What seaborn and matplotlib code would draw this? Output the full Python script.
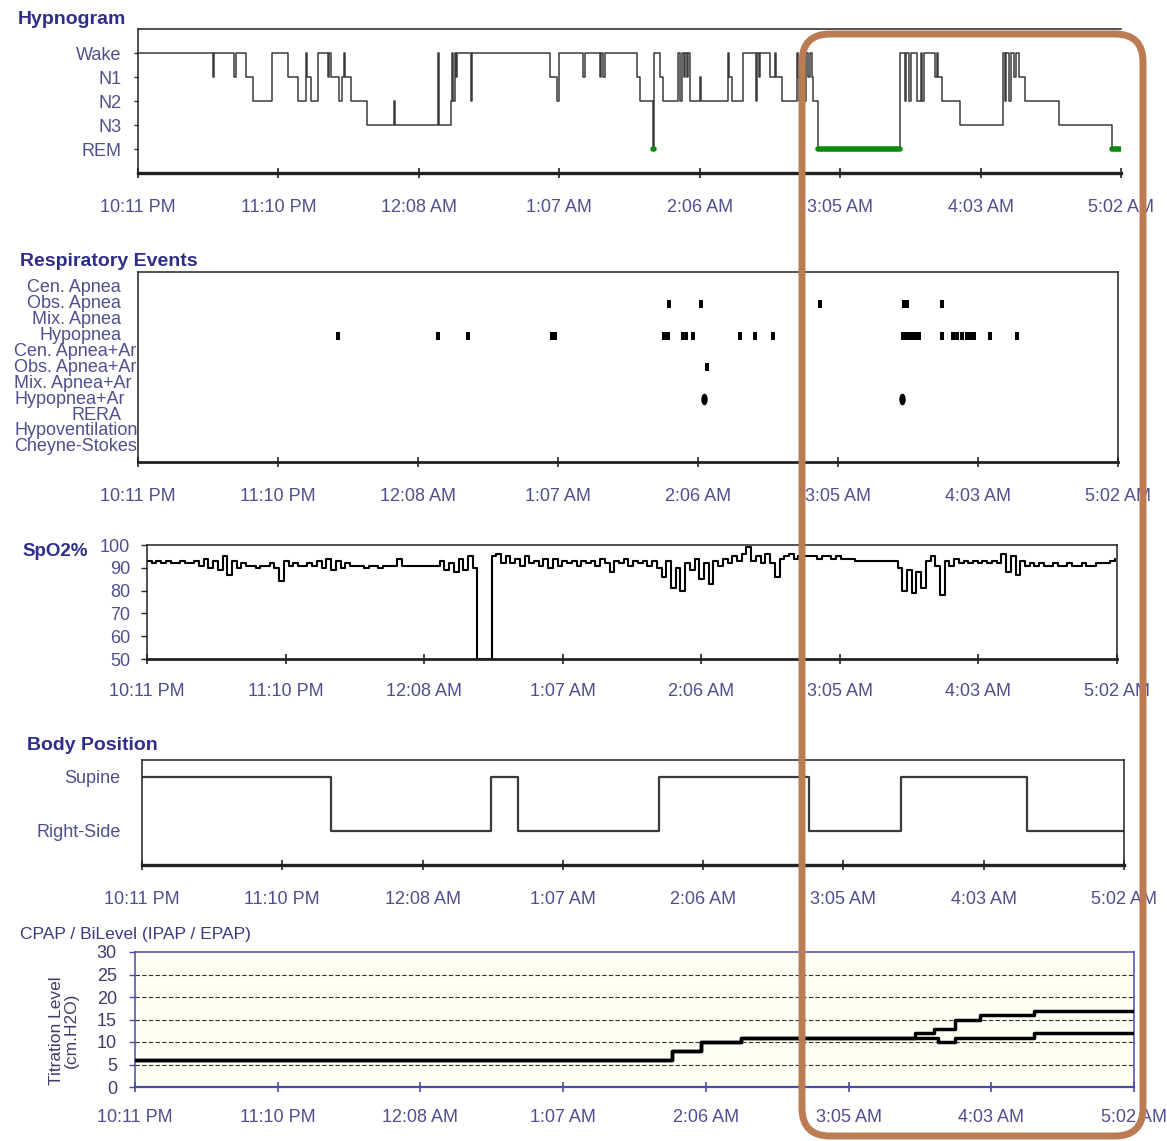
import numpy as np
import pandas as pd
import seaborn as sns
import matplotlib.pyplot as plt
from matplotlib.patches import FancyBboxPatch
from matplotlib.path import Path
from matplotlib.transforms import Affine2D, blended_transform_factory

# all times are minutes after lights-off (10:11 PM)
time_labels = ["10:11 PM", "11:10 PM", "12:08 AM", "1:07 AM",
               "2:06 AM", "3:05 AM", "4:03 AM", "5:02 AM"]
study_minutes = 411

# hypnogram: stage changes
stage_names = ["Wake", "N1", "N2", "N3", "REM"]
hyp_t = [0, 31.2, 31.7, 40.3, 40.8, 45.2, 47.9, 55.9, 62.6, 66.8,
         70.3, 70.8, 72.4, 75.4, 79.4, 79.9, 80.7, 83.9, 85.2, 86.2,
         86.7, 89.2, 95.9, 106.9, 107.4, 125.3, 125.8, 130.8, 131.3, 131.8,
         132.4, 132.9, 133.5, 139.2, 139.7, 172.1, 175.2, 175.9, 186.2, 186.7,
         193.2, 193.7, 194.4, 195.1, 208.5, 209.9, 215.2, 215.9, 218.3, 219.7,
         225.9, 226.6, 227.3, 228.2, 228.8, 229.4, 230.0, 230.6, 234.8, 235.3,
         246.5, 247.3, 248.2, 253.0, 258.2, 258.9, 259.5, 260.1, 264.2, 266.2,
         266.8, 269.1, 275.4, 276.0, 276.5, 279.5, 280.3, 281.0, 281.6, 282.3,
         284.3, 318.7, 320.8, 321.3, 322.5, 323.0, 325.8, 327.4, 328.0, 328.6,
         333.4, 334.0, 334.6, 336.0, 343.8, 361.7, 362.4, 363.0, 364.2, 364.8,
         366.4, 367.0, 368.2, 371.0, 385.0, 407.4, 411]
hyp_stage = ["Wake", "N1", "Wake", "N1", "Wake", "N1", "N2", "Wake", "N1", "N2",
             "Wake", "N1", "N2", "Wake", "N1", "Wake", "N1", "N2", "N1", "Wake",
             "N1", "N2", "N3", "N2", "N3", "Wake", "N3", "N2", "Wake", "N2",
             "Wake", "N1", "Wake", "N2", "Wake", "N1", "N2", "Wake", "N1", "Wake",
             "N1", "Wake", "N1", "Wake", "N1", "N2", "REM", "Wake", "N1", "N2",
             "Wake", "N2", "Wake", "N1", "Wake", "N1", "Wake", "N2", "N1", "N2",
             "Wake", "N1", "N2", "Wake", "N2", "Wake", "N1", "Wake", "N1", "Wake",
             "N1", "N2", "Wake", "N1", "N2", "Wake", "N1", "Wake", "N1", "N2",
             "REM", "Wake", "N2", "Wake", "N2", "Wake", "N2", "Wake", "N2", "Wake",
             "N1", "Wake", "N1", "N2", "N3", "Wake", "N2", "Wake", "N2", "Wake",
             "N1", "Wake", "N1", "N2", "N3", "REM", "REM"]

# respiratory events
resp_rows = ["Cen. Apnea", "Obs. Apnea", "Mix. Apnea", "Hypopnea",
             "Cen. Apnea+Ar", "Obs. Apnea+Ar", "Mix. Apnea+Ar", "Hypopnea+Ar",
             "RERA", "Hypoventilation", "Cheyne-Stokes"]
obs_apnea_t = [222.5, 236.1, 286.1, 321.1, 322.5, 337.2]
hypopnea_t = [83.8, 125.7, 138.4, 173.7, 175.0, 220.7, 222.2, 228.4, 230.0, 232.6,
              252.3, 258.8, 266.3, 320.9, 322.2, 323.5, 324.8, 326.1, 327.4, 337.2,
              341.9, 343.6, 345.7, 347.6, 349.0, 350.5, 357.4, 368.6]
obs_apnea_ar_t = [238.6]
hypopnea_ar_t = [237.2, 320.4]

# SpO2, one reading every 2 minutes
spo2_step = 2
spo2_ticks = [50, 60, 70, 80, 90, 100]
spo2 = [93, 92, 93, 92, 93, 92, 92, 93, 92, 92,
        93, 91, 94, 90, 93, 89, 95, 87, 93, 90,
        92, 91, 91, 90, 91, 91, 92, 90, 84, 93,
        91, 92, 91, 91, 92, 91, 93, 90, 94, 89,
        93, 90, 92, 91, 91, 91, 90, 91, 91, 90,
        91, 91, 91, 94, 91, 91, 91, 91, 91, 91,
        91, 91, 93, 89, 92, 88, 94, 89, 95, 90,
        50, 50, 50, 95, 96, 92, 95, 92, 94, 91,
        95, 92, 93, 91, 94, 90, 94, 91, 93, 92,
        93, 91, 93, 92, 93, 91, 94, 92, 88, 93,
        92, 94, 91, 93, 92, 93, 91, 93, 90, 86,
        93, 81, 90, 80, 92, 89, 94, 85, 92, 83,
        93, 91, 94, 92, 95, 93, 96, 99, 93, 95,
        92, 96, 92, 86, 94, 95, 96, 94, 95, 95,
        95, 95, 94, 95, 95, 94, 95, 94, 94, 94,
        93, 93, 93, 93, 93, 93, 93, 93, 93, 90,
        80, 89, 79, 88, 81, 93, 95, 91, 78, 93,
        91, 94, 92, 93, 92, 93, 92, 93, 92, 93,
        92, 96, 88, 95, 87, 93, 91, 92, 91, 92,
        91, 91, 92, 91, 91, 92, 91, 91, 92, 91,
        91, 92, 92, 92, 93, 94]

# body position
body_names = ["Supine", "Right-Side"]
body_t = [0, 79.2, 146.2, 157.5, 216.5, 279.2, 317.7, 370.4, 411]
body_pos = ["Supine", "Right-Side", "Supine", "Right-Side", "Supine",
            "Right-Side", "Supine", "Right-Side", "Right-Side"]

# titration pressures (cm H2O)
cpap_ticks = [0, 5, 10, 15, 20, 25, 30]
ipap_t = [0, 220.9, 232.8, 249.4, 321.1, 328.8, 337.3, 347.8, 370.0, 411]
ipap = [6, 8, 10, 11, 12, 13, 15, 16, 17, 17]
epap_t = [0, 220.9, 232.8, 249.4, 330.4, 337.3, 370.0, 411]
epap = [6, 8, 10, 11, 10, 11, 12, 12]

W, H = 1167, 1141
sns.set_style("white")
plt.rcParams['font.family'] = ['Liberation Sans', 'DejaVu Sans']

TITLE_C = '#2e2e8a'
LABEL_C = '#4f4f8f'
FS = 13

fig = plt.figure(figsize=(W / 100, H / 100), dpi=100)


def add_ax(x0, y0, x1, y1):
    # pixel box (top-left origin) -> figure fraction
    return fig.add_axes([x0 / W, 1 - y1 / H, (x1 - x0) / W, (y1 - y0) / H])


def fig_text(x, y, s, **kw):
    return fig.text(x / W, 1 - y / H, s, **kw)


tick_pos = np.linspace(0, study_minutes, len(time_labels))


def time_axis(ax, pad, spine_c='#222222'):
    ax.set_xlim(0, study_minutes)
    ax.set_xticks(tick_pos)
    ax.set_xticklabels(time_labels)
    ax.tick_params(axis='x', bottom=True, direction='inout', length=7, width=1.2,
                   color=spine_c, labelsize=FS, labelcolor=LABEL_C, pad=pad)
    ax.set_xlabel('')
    ax.set_ylabel('')
    for sp in ax.spines.values():
        sp.set_visible(True)
        sp.set_color(spine_c)
        sp.set_linewidth(1.1)
    ax.spines['bottom'].set_linewidth(2.0)


# ---------------- Hypnogram ----------------
ax1 = add_ax(138, 29, 1121, 173)
hyp = pd.DataFrame({"t": hyp_t, "stage": hyp_stage})
hyp["level"] = hyp["stage"].map({s: i for i, s in enumerate(stage_names)})
sns.lineplot(data=hyp, x="t", y="level", ax=ax1, drawstyle="steps-post",
             estimator=None, sort=False, color="#3a3a3a", linewidth=1.1)

rem_rows = []
for i in range(len(hyp_t) - 1):
    if hyp_stage[i] == "REM":
        rem_rows += [(hyp_t[i], 4, i), (hyp_t[i + 1], 4, i)]
rem = pd.DataFrame(rem_rows, columns=["t", "level", "seg"])
sns.lineplot(data=rem, x="t", y="level", units="seg", estimator=None, ax=ax1,
             color="#0b8a0b", linewidth=4, solid_capstyle="round", legend=False)

ax1.set_ylim(5, -1)
ax1.set_yticks(range(len(stage_names)))
ax1.set_yticklabels(stage_names)
time_axis(ax1, pad=15.5)
ax1.spines['right'].set_visible(False)
ax1.spines['bottom'].set_linewidth(2.4)
ax1.tick_params(axis='y', left=True, direction='out', length=3, width=1,
                labelsize=FS, labelcolor=LABEL_C, pad=9)
fig_text(18, 20, "Hypnogram", ha='left', va='center', fontsize=14,
         fontweight='bold', color=TITLE_C)

# ---------------- Respiratory events ----------------
ax2 = add_ax(138, 272, 1118, 462)
events = pd.DataFrame(
    [(t, "Obs. Apnea") for t in obs_apnea_t]
    + [(t, "Hypopnea") for t in hypopnea_t]
    + [(t, "Obs. Apnea+Ar") for t in obs_apnea_ar_t]
    + [(t, "Hypopnea+Ar") for t in hypopnea_ar_t],
    columns=["t", "event"])
events["row"] = events["event"].map({r: i for i, r in enumerate(resp_rows)})

bar_mark = Path([(-0.22, -0.5), (0.22, -0.5), (0.22, 0.5), (-0.22, 0.5), (-0.22, -0.5)], closed=True)
oval_mark = Path.unit_circle().transformed(Affine2D().scale(0.55, 1.0))
small = events[events["event"] != "Hypopnea+Ar"]
big = events[events["event"] == "Hypopnea+Ar"]
sns.scatterplot(data=small, x="t", y="row", marker=bar_mark, s=30, color="black",
                linewidth=0, ax=ax2, legend=False)
sns.scatterplot(data=big, x="t", y="row", marker=oval_mark, s=70, color="black",
                linewidth=0, ax=ax2, legend=False)
ax2.set_ylim(10.95, -1)
ax2.set_yticks([])
time_axis(ax2, pad=15)

right_aligned = ["Cen. Apnea", "Obs. Apnea", "Mix. Apnea", "Hypopnea", "RERA"]
lab_tr = blended_transform_factory(fig.transFigure, ax2.transData)
for i, name in enumerate(resp_rows):
    if name in right_aligned:
        fig.text(121 / W, i, name, transform=lab_tr, ha='right', va='center',
                 fontsize=FS, color=LABEL_C, zorder=-1)
    else:
        fig.text(14 / W, i, name, transform=lab_tr, ha='left', va='center',
                 fontsize=FS, color=LABEL_C, zorder=-1)
fig_text(20, 262, "Respiratory Events", ha='left', va='center', fontsize=14,
         fontweight='bold', color=TITLE_C)

# ---------------- SpO2 ----------------
ax3 = add_ax(147, 545, 1117, 659)
spo2_t = np.arange(len(spo2)) * spo2_step
sns.lineplot(x=spo2_t, y=spo2, ax=ax3, drawstyle="steps-post", estimator=None,
             sort=False, color="black", linewidth=1.5)
ax3.set_ylim(50, 100)
ax3.set_yticks(spo2_ticks)
time_axis(ax3, pad=13.5)
ax3.tick_params(axis='y', left=True, direction='out', length=4, width=1,
                labelsize=FS, labelcolor=LABEL_C, pad=8)
fig_text(22, 551, "SpO2%", ha='left', va='center', fontsize=13.5,
         fontweight='bold', color=TITLE_C)

# ---------------- Body position ----------------
ax4 = add_ax(142, 760, 1124, 865)
body = pd.DataFrame({"t": body_t, "pos": body_pos})
body["level"] = body["pos"].map({"Supine": 1, "Right-Side": 0})
sns.lineplot(data=body, x="t", y="level", ax=ax4, drawstyle="steps-post",
             estimator=None, sort=False, color="#3a3a3a", linewidth=1.6)
ax4.set_ylim(-0.63, 1.31)
ax4.set_yticks([1, 0])
ax4.set_yticklabels(body_names)
time_axis(ax4, pad=15.5)
ax4.spines['bottom'].set_linewidth(2.4)
ax4.tick_params(axis='y', left=False, labelsize=FS, labelcolor=LABEL_C, pad=12)
fig_text(27, 746, "Body Position", ha='left', va='center', fontsize=14,
         fontweight='bold', color=TITLE_C)

# ---------------- CPAP / BiLevel ----------------
ax5 = add_ax(135, 952, 1134, 1087)
ax5.set_facecolor('#fffff4')
cp = pd.concat([
    pd.DataFrame({"t": ipap_t, "cmH2O": ipap, "mode": "IPAP"}),
    pd.DataFrame({"t": epap_t, "cmH2O": epap, "mode": "EPAP"}),
])
for v in cpap_ticks[1:-1]:
    ax5.axhline(v, color='#333333', linewidth=0.8, linestyle=(0, (4, 2)), zorder=1)
sns.lineplot(data=cp, x="t", y="cmH2O", hue="mode", palette={"IPAP": "black", "EPAP": "black"},
             ax=ax5, drawstyle="steps-post", estimator=None, sort=False,
             linewidth=2.5, legend=False, zorder=3)
ax5.set_ylim(0, 30)
ax5.set_yticks(cpap_ticks)
time_axis(ax5, pad=12, spine_c='#4a4aa8')
ax5.spines['bottom'].set_linewidth(1.6)
ax5.tick_params(axis='y', left=True, direction='out', length=4, width=1,
                color='#4a4aa8', labelsize=FS, labelcolor='#3d3d6a', pad=9)
ax5.set_ylabel("Titration Level\n(cm.H2O)", fontsize=12.5, color='#3d3d6a',
               linespacing=1.0)
ax5.yaxis.set_label_coords(-0.056, 0.42)
fig_text(20, 934, "CPAP / BiLevel (IPAP / EPAP)", ha='left', va='center',
         fontsize=12.5, color='#3a3a80')

# highlight frame drawn over the later part of the night
frame = FancyBboxPatch((8.02, 0.05), 3.41, 11.02,
                       boxstyle="round,pad=0,rounding_size=0.28",
                       transform=fig.dpi_scale_trans, facecolor='none',
                       edgecolor='#bb7b53', linewidth=5.0, zorder=10)
fig.add_artist(frame)

fig.savefig('out.png', dpi=100)
